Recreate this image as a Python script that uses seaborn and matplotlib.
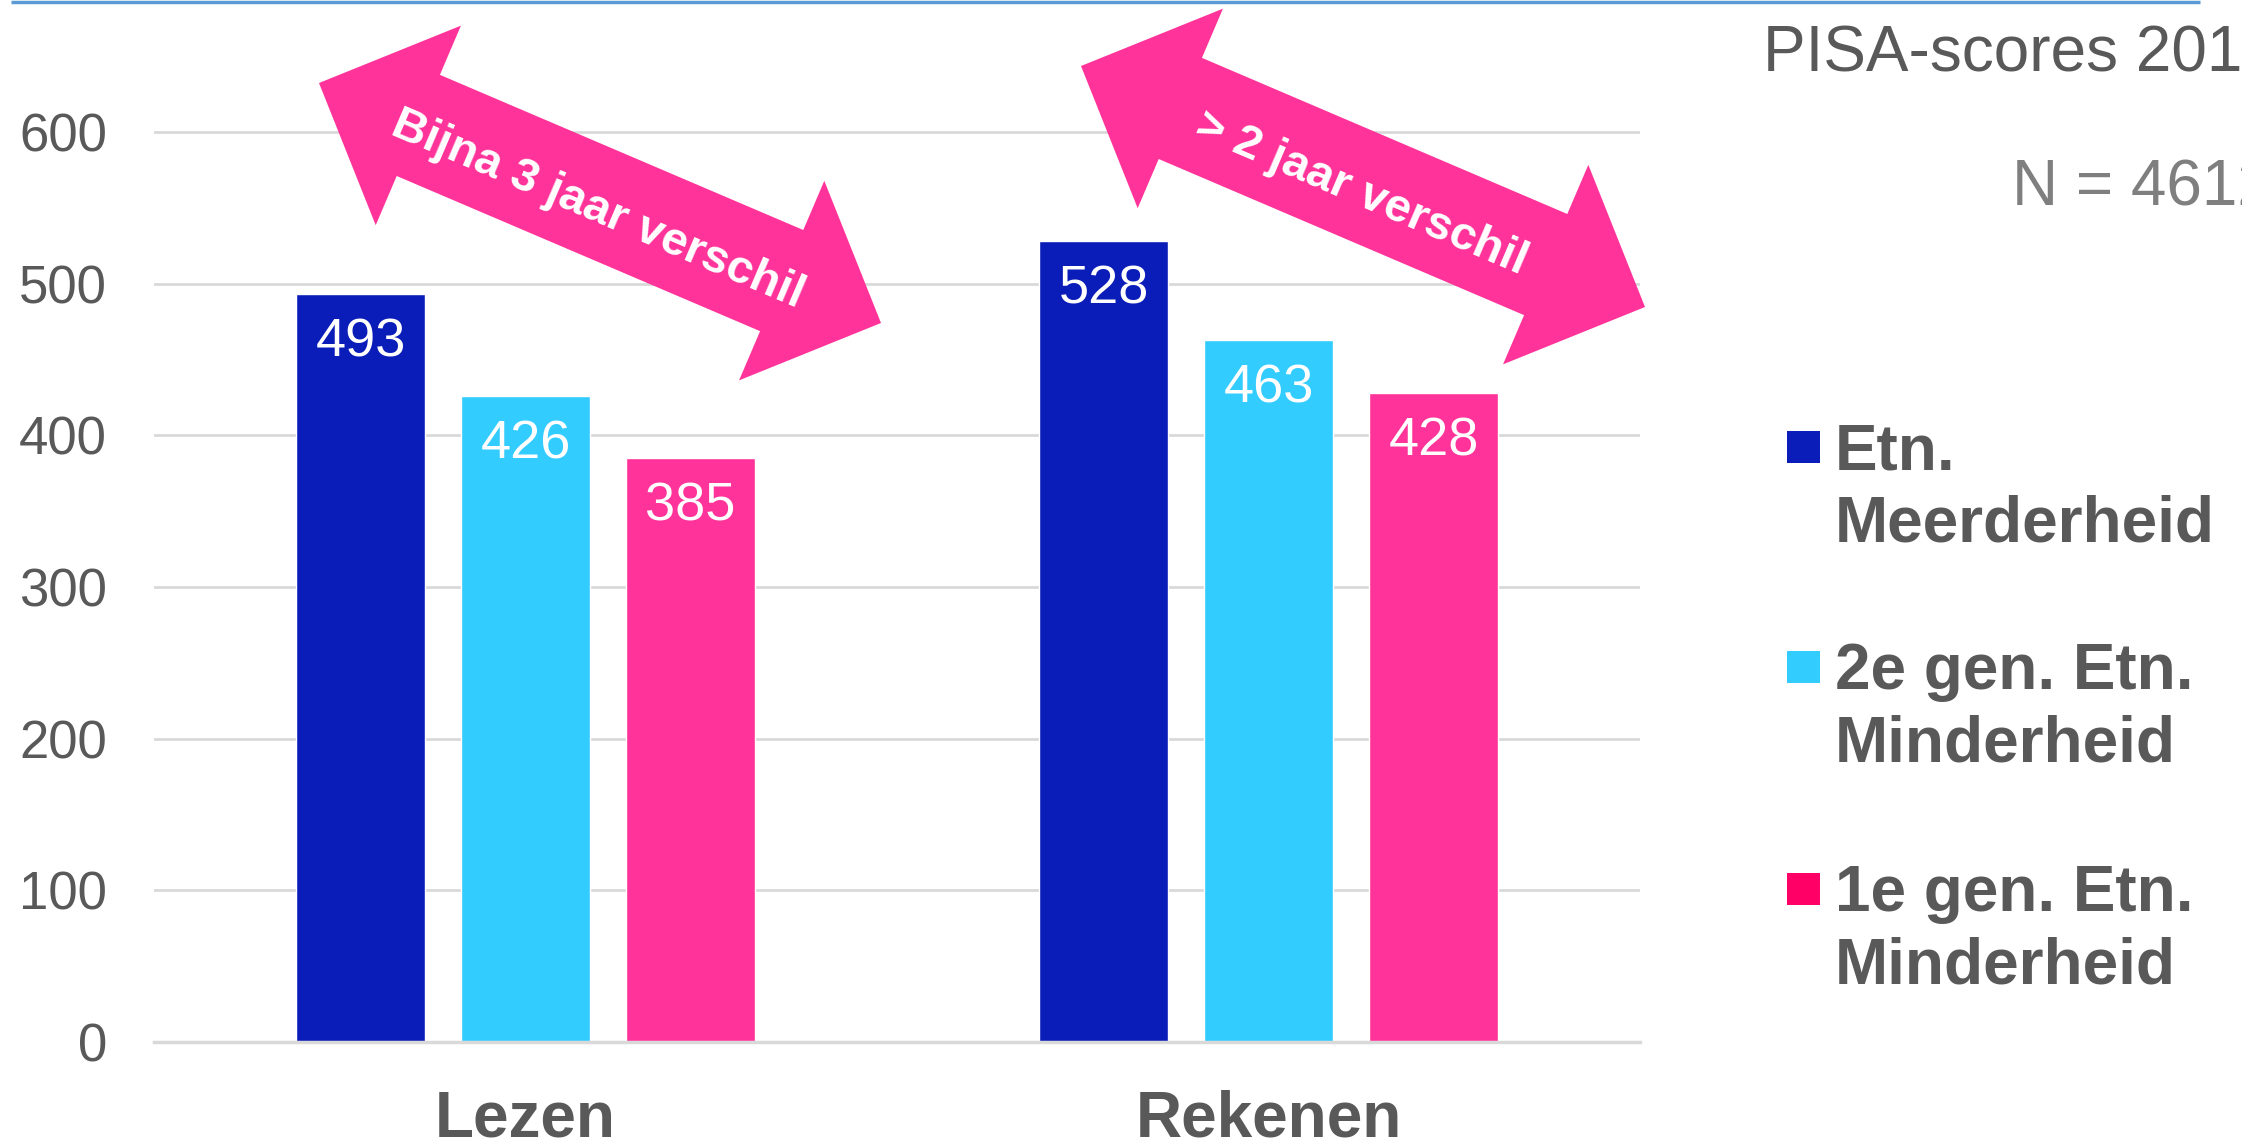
import numpy as np
import pandas as pd
import matplotlib.pyplot as plt
import matplotlib.patches as mpatches
import seaborn as sns

# Data
vakken = ["Lezen", "Rekenen"]
groepen = ["Etn. Meerderheid", "2e gen. Etn. Minderheid", "1e gen. Etn. Minderheid"]
meerderheid = [493, 528]
tweede_gen = [426, 463]
eerste_gen = [385, 428]
y_ticks = [0, 100, 200, 300, 400, 500, 600]

bar_kleuren = ["#0B1DB8", "#33CCFF", "#FF3399"]
legenda_kleuren = ["#0B1DB8", "#33CCFF", "#FF0066"]
legenda_regels = [("Etn.", "Meerderheid"),
                  ("2e gen. Etn.", "Minderheid"),
                  ("1e gen. Etn.", "Minderheid")]
pijl_teksten = ["Bijna 3 jaar verschil", "> 2 jaar verschil"]
titel = "PISA-scores 2012"
n_tekst = "N = 4612"

df = pd.DataFrame({
    "vak": vakken * 3,
    "groep": np.repeat(groepen, len(vakken)),
    "score": meerderheid + tweede_gen + eerste_gen,
})

sns.set_theme(style="white")
plt.rcParams['font.family'] = ['Liberation Sans', 'DejaVu Sans']
grijs = "#595959"

W, H = 2242, 1143
fig = plt.figure(figsize=(W / 100, H / 100), dpi=100)

# plot area in pixels: x 154..1640, y(0) = 1042, 600 units = 910 px
ymax = 620
px_per_unit = 910 / 600
ax_h = ymax * px_per_unit
ax = fig.add_axes([154 / W, (H - 1042) / H, 1486 / W, ax_h / H])

sns.barplot(data=df, x="vak", y="score", hue="groep", palette=bar_kleuren,
            saturation=1, width=0.666, gap=0.216, errorbar=None,
            legend=False, ax=ax)

ax.set_ylim(0, ymax)
ax.set_yticks(y_ticks)
ax.set_xlabel("")
ax.set_ylabel("")
ax.yaxis.grid(True, color="#D9D9D9", linewidth=2)
ax.set_axisbelow(True)
for s in ["top", "right", "left"]:
    ax.spines[s].set_visible(False)
ax.spines["bottom"].set_color("#D9D9D9")
ax.spines["bottom"].set_linewidth(2.5)
ax.tick_params(axis="y", length=0, pad=34, labelsize=38, labelcolor=grijs)
ax.tick_params(axis="x", length=0, pad=34, labelsize=46, labelcolor=grijs)
for lbl in ax.get_xticklabels():
    lbl.set_fontweight("bold")

for cont in ax.containers:
    ax.bar_label(cont, padding=-53, color="white", fontsize=39)

# overlay in pixel coordinates for annotations
ov = fig.add_axes([0, 0, 1, 1], zorder=5)
ov.set_xlim(0, W)
ov.set_ylim(H, 0)
ov.axis("off")
ov.patch.set_alpha(0)

ov.plot([11, 2200], [2, 2], color="#5B9BD5", lw=2.5, solid_capstyle="butt")


def dubbele_pijl(ax, p1, p2, shaft=110, head_w=217, head_l=108, **kw):
    p1 = np.array(p1, float)
    p2 = np.array(p2, float)
    u = (p2 - p1) / np.linalg.norm(p2 - p1)
    n = np.array([-u[1], u[0]])
    a = p1 + head_l * u
    b = p2 - head_l * u
    pts = [p1, a + n * head_w / 2, a + n * shaft / 2, b + n * shaft / 2,
           b + n * head_w / 2, p2, b - n * head_w / 2, b - n * shaft / 2,
           a - n * shaft / 2, a - n * head_w / 2]
    ax.add_patch(mpatches.Polygon(pts, closed=True, lw=0, **kw))
    mid = (p1 + p2) / 2
    hoek = -np.degrees(np.arctan2(p2[1] - p1[1], p2[0] - p1[0]))
    return mid, hoek


pijlen = [((319, 83), (881, 323)), ((1081, 66), (1645, 307))]
for (p1, p2), tekst in zip(pijlen, pijl_teksten):
    mid, hoek = dubbele_pijl(ov, p1, p2, facecolor="#FF3399")
    ov.text(mid[0] - 2, mid[1] + 7, tekst, rotation=hoek, rotation_mode="anchor",
            ha="center", va="center", color="white", fontsize=34,
            fontweight="bold")

# title and N
ov.text(1763, 72, titel, fontsize=46, color=grijs, va="baseline", ha="left")
ov.text(2012, 205, n_tekst, fontsize=46, color="#7F7F7F", va="baseline", ha="left")

# legend
basis = [469, 689, 911]
for kleur, (r1, r2), y in zip(legenda_kleuren, legenda_regels, basis):
    ov.add_patch(mpatches.Rectangle((1787, y - 38), 33, 32, facecolor=kleur, lw=0))
    ov.text(1835, y, r1, fontsize=46, fontweight="bold", color=grijs, va="baseline")
    ov.text(1835, y + 73, r2, fontsize=46, fontweight="bold", color=grijs, va="baseline")

fig.savefig("out.png", dpi=100)
